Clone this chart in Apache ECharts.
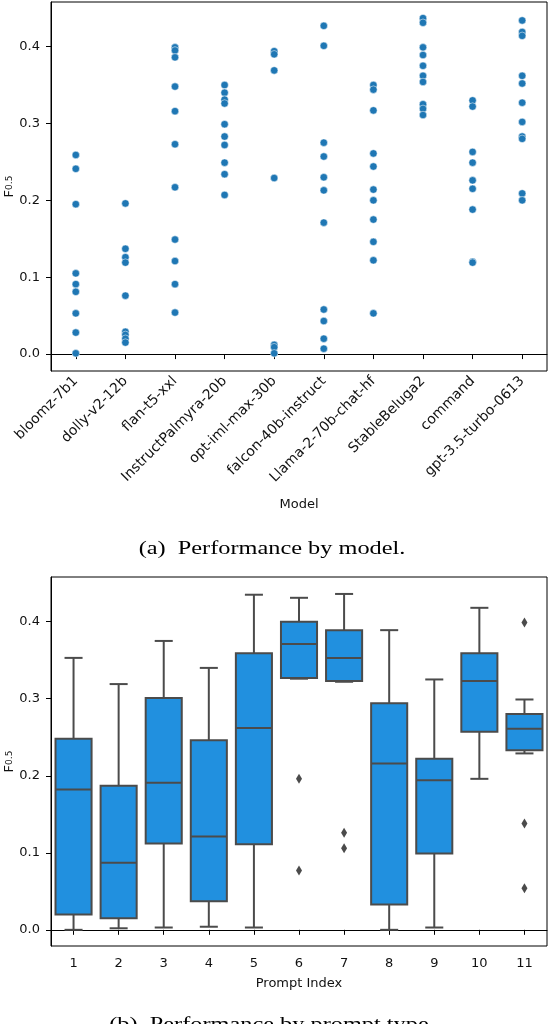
<!DOCTYPE html>
<html>
<head>
<meta charset="utf-8">
<script src="https://cdn.jsdelivr.net/npm/echarts@6/dist/echarts.min.js"></script>
<style>
html,body{margin:0;padding:0;background:#fff}
#chart{width:548px;height:1024px}
</style>
</head>
<body>
<div id="chart"></div>
<script>
// (a) scores per model
const models = ['bloomz-7b1', 'dolly-v2-12b', 'flan-t5-xxl', 'InstructPalmyra-20b', 'opt-iml-max-30b',
  'falcon-40b-instruct', 'Llama-2-70b-chat-hf', 'StableBeluga2', 'command', 'gpt-3.5-turbo-0613'];
const bloomz = [0.259, 0.241, 0.195, 0.105, 0.091, 0.081, 0.053, 0.028, 0.001];
const dolly = [0.196, 0.137, 0.126, 0.119, 0.076, 0.029, 0.025, 0.020, 0.015];
const flan = [0.399, 0.395, 0.386, 0.348, 0.316, 0.273, 0.217, 0.149, 0.121, 0.091, 0.054];
const palmyra = [0.350, 0.340, 0.331, 0.326, 0.299, 0.283, 0.272, 0.249, 0.234, 0.207];
const optIml = [0.394, 0.390, 0.369, 0.229, 0.012, 0.009, 0.001];
const falcon = [0.427, 0.401, 0.275, 0.257, 0.230, 0.213, 0.171, 0.058, 0.043, 0.020, 0.007];
const llama = [0.350, 0.344, 0.317, 0.261, 0.244, 0.214, 0.200, 0.175, 0.146, 0.122, 0.053];
const beluga = [0.437, 0.431, 0.399, 0.389, 0.375, 0.362, 0.354, 0.325, 0.319, 0.311];
const command = [0.330, 0.322, 0.263, 0.249, 0.226, 0.215, 0.188, 0.120, 0.119];
const gpt35 = [0.434, 0.419, 0.414, 0.362, 0.352, 0.327, 0.302, 0.283, 0.280, 0.209, 0.200];
const modelScores = [bloomz, dolly, flan, palmyra, optIml, falcon, llama, beluga, command, gpt35];

// (b) box stats per prompt
const prompts = ['1', '2', '3', '4', '5', '6', '7', '8', '9', '10', '11'];
const whiskerLow = [0.000, 0.002, 0.003, 0.004, 0.003, 0.326, 0.322, 0.000, 0.003, 0.196, 0.229];
const q1 = [0.020, 0.015, 0.112, 0.037, 0.111, 0.327, 0.323, 0.033, 0.099, 0.257, 0.233];
const median = [0.182, 0.087, 0.191, 0.121, 0.262, 0.371, 0.353, 0.216, 0.194, 0.323, 0.261];
const q3 = [0.248, 0.187, 0.301, 0.246, 0.359, 0.400, 0.389, 0.294, 0.222, 0.359, 0.280];
const whiskerHigh = [0.353, 0.319, 0.375, 0.340, 0.435, 0.431, 0.436, 0.389, 0.325, 0.418, 0.299];
const outliers = [[5, 0.196], [5, 0.077], [6, 0.126], [6, 0.106], [10, 0.399], [10, 0.138], [10, 0.054]];

const yTicks = [0, 0.1, 0.2, 0.3, 0.4];

const chart = echarts.init(document.getElementById('chart'));

var scatterData = [];
modelScores.forEach(function (arr, i) {
  arr.forEach(function (v) { scatterData.push([i, v]); });
});

var boxData = prompts.map(function (p, i) {
  return [i, whiskerLow[i], q1[i], median[i], q3[i], whiskerHigh[i]];
});

var edge = '#4b4b4b';

function renderBox(params, api) {
  var x = api.value(0);
  var lo = api.coord([x, api.value(1)]);
  var b1 = api.coord([x, api.value(2)]);
  var md = api.coord([x, api.value(3)]);
  var b3 = api.coord([x, api.value(4)]);
  var hi = api.coord([x, api.value(5)]);
  var bw = api.size([1, 0])[0] * 0.8;
  var cw = bw / 4;
  var ls = { stroke: edge, lineWidth: 2 };
  var cx = lo[0];
  return {
    type: 'group',
    children: [
      { type: 'line', shape: { x1: cx, y1: lo[1], x2: cx, y2: b1[1] }, style: ls },
      { type: 'line', shape: { x1: cx, y1: hi[1], x2: cx, y2: b3[1] }, style: ls },
      { type: 'line', shape: { x1: cx - cw, y1: lo[1], x2: cx + cw, y2: lo[1] }, style: ls },
      { type: 'line', shape: { x1: cx - cw, y1: hi[1], x2: cx + cw, y2: hi[1] }, style: ls },
      { type: 'rect', shape: { x: cx - bw / 2, y: b3[1], width: bw, height: b1[1] - b3[1] },
        style: { fill: '#2190df', stroke: edge, lineWidth: 2 } },
      { type: 'line', shape: { x1: cx - bw / 2, y1: md[1], x2: cx + bw / 2, y2: md[1] }, style: ls }
    ]
  };
}

var labelFont = { fontFamily: 'DejaVu Sans', fontSize: 13, color: '#111' };

function yAxis(idx, min, max) {
  return {
    type: 'value', gridIndex: idx, min: min, max: max,
    name: 'F{s|0.5}', nameLocation: 'middle', nameGap: 35, nameMoveOverlap: false,
    nameTextStyle: Object.assign({}, labelFont, { rich: { s: { fontFamily: 'DejaVu Sans', fontSize: 9, color: '#111' } } }),
    axisLine: { show: true, lineStyle: { color: '#000', width: 1 } },
    axisTick: { show: true, length: 5, lineStyle: { color: '#000' }, customValues: yTicks },
    axisLabel: Object.assign({}, labelFont, { margin: 11, customValues: yTicks,
      formatter: function (v) { return v.toFixed(1); } }),
    splitLine: { show: false }
  };
}

var option = {
  animation: false,
  backgroundColor: '#fff',
  grid: [
    { left: 51, top: 2, width: 496, height: 369, show: true, borderColor: '#000', borderWidth: 1,
      outerBoundsMode: 'none', containLabel: false },
    { left: 51, top: 577, width: 496, height: 369, show: true, borderColor: '#000', borderWidth: 1,
      outerBoundsMode: 'none', containLabel: false }
  ],
  xAxis: [
    {
      type: 'category', gridIndex: 0, data: models, boundaryGap: true,
      name: 'Model', nameLocation: 'middle', nameGap: 127, nameMoveOverlap: false, nameTextStyle: labelFont,
      axisLine: { show: true, lineStyle: { color: '#000' } },
      axisTick: { show: true, alignWithLabel: true, length: 5, lineStyle: { color: '#000' } },
      axisLabel: Object.assign({}, labelFont, { fontSize: 14, rotate: 45, interval: 0, margin: 8 })
    },
    {
      type: 'category', gridIndex: 1, data: prompts, boundaryGap: true,
      name: 'Prompt Index', nameLocation: 'middle', nameGap: 31, nameMoveOverlap: false, nameTextStyle: labelFont,
      axisLine: { show: true, lineStyle: { color: '#000' } },
      axisTick: { show: true, alignWithLabel: true, length: 5, lineStyle: { color: '#000' } },
      axisLabel: Object.assign({}, labelFont, { interval: 0, margin: 11 })
    }
  ],
  yAxis: [yAxis(0, -0.022, 0.458), yAxis(1, -0.021, 0.458)],
  series: [
    {
      type: 'scatter', xAxisIndex: 0, yAxisIndex: 0, data: scatterData,
      symbolSize: 7.5,
      itemStyle: { color: '#1f77b4', borderColor: '#fff', borderWidth: 0.5, opacity: 1 }
    },
    {
      type: 'custom', xAxisIndex: 1, yAxisIndex: 1, data: boxData,
      renderItem: renderBox
    },
    {
      type: 'scatter', xAxisIndex: 1, yAxisIndex: 1, data: outliers,
      symbol: 'diamond', symbolSize: [6, 10],
      itemStyle: { color: edge, opacity: 1 }
    }
  ],
  graphic: [
    { type: 'text', x: 272, y: 549, scaleX: 1.28,
      style: { text: '(a)  Performance by model.', fontFamily: 'Liberation Serif', fontSize: 19,
        fill: '#000', align: 'center', verticalAlign: 'middle' } },
    { type: 'text', x: 272, y: 1025, scaleX: 1.28,
      style: { text: '(b)  Performance by prompt type.', fontFamily: 'Liberation Serif', fontSize: 19,
        fill: '#000', align: 'center', verticalAlign: 'middle' } }
  ]
};

chart.setOption(option);
</script>
</body>
</html>
